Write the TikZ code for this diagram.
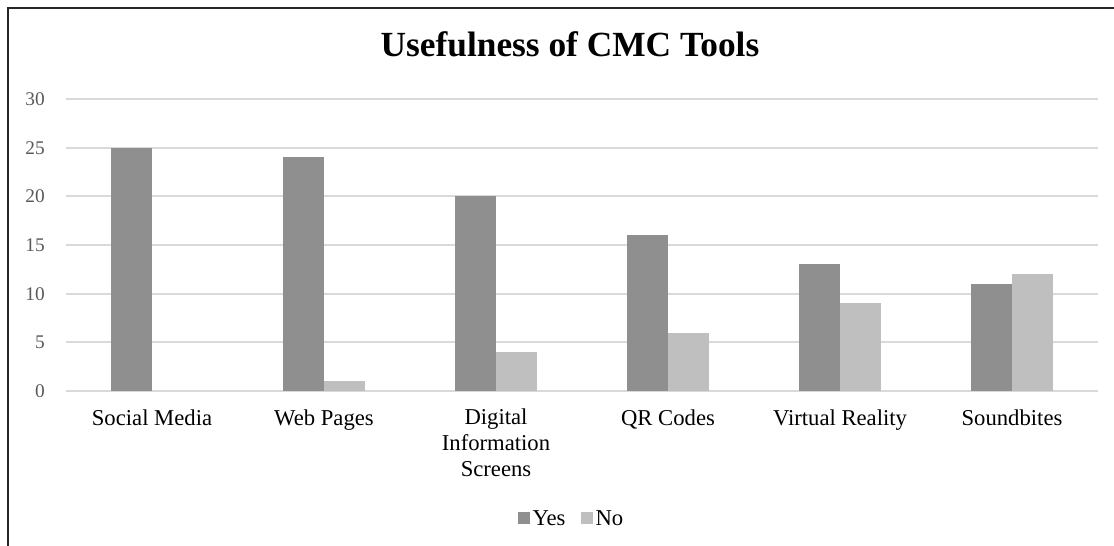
\documentclass[tikz,border=0pt]{standalone}
\usepackage{fontspec}
\setmainfont{Liberation Serif}
\usetikzlibrary{positioning}

\definecolor{yesgray}{HTML}{8F8F8F}
\definecolor{nogray}{HTML}{BFBFBF}
\definecolor{gridgray}{HTML}{D9D9D9}
\definecolor{tickgray}{HTML}{595959}

\begin{document}
\begin{tikzpicture}[x=0.75pt, y=-0.75pt,
  yesbar/.style={rectangle, fill=yesgray, inner sep=0pt, outer sep=0pt, minimum width=30.75pt, anchor=south east},
  nobar/.style={rectangle, fill=nogray, inner sep=0pt, outer sep=0pt, minimum width=30.75pt, anchor=south west},
  gridline/.style={draw=gridgray, line width=1.1pt},
  ticklabel/.style={anchor=east, inner sep=0pt, text=tickgray, font=\fontsize{14.5}{14.5}\selectfont},
  catlabel/.style={anchor=north, inner sep=0pt, align=center, font=\fontsize{17}{19.5}\selectfont},
  keybox/.style={rectangle, inner sep=0pt, minimum size=9pt}]

  \useasboundingbox (0,0) rectangle (1114,546);
  \draw[black!85, line width=1.6pt] (8,546) -- (8,8) -- (1114,8);

  \node[font=\fontsize{26.5}{26.5}\selectfont\bfseries] (title) at (570,44) {Usefulness of CMC Tools};

  % grid and y axis
  \draw[gridline] (66,99) -- (1098,99);
  \draw[gridline] (66,148) -- (1098,148);
  \draw[gridline] (66,196) -- (1098,196);
  \draw[gridline] (66,245) -- (1098,245);
  \draw[gridline] (66,294) -- (1098,294);
  \draw[gridline] (66,342) -- (1098,342);
  \draw[gridline] (66,391) -- (1098,391);
  \node[ticklabel] (t30) at (45,99) {30};
  \node[ticklabel] (t25) at (45,148) {25};
  \node[ticklabel] (t20) at (45,196) {20};
  \node[ticklabel] (t15) at (45,245) {15};
  \node[ticklabel] (t10) at (45,294) {10};
  \node[ticklabel] (t5) at (45,342) {5};
  \node[ticklabel] (t0) at (45,391) {0};

  % bars (1 unit = 7.3pt)
  \node[yesbar, minimum height=182.5pt] (ysocial) at (152,391) {};
  \node[yesbar, minimum height=175.2pt] (yweb) at (324,391) {};
  \node[nobar, minimum height=7.3pt] (nweb) at (324,391) {};
  \node[yesbar, minimum height=146pt] (ydigital) at (496,391) {};
  \node[nobar, minimum height=29.2pt] (ndigital) at (496,391) {};
  \node[yesbar, minimum height=116.8pt] (yqr) at (668,391) {};
  \node[nobar, minimum height=43.8pt] (nqr) at (668,391) {};
  \node[yesbar, minimum height=94.9pt] (yvirtual) at (840,391) {};
  \node[nobar, minimum height=65.7pt] (nvirtual) at (840,391) {};
  \node[yesbar, minimum height=80.3pt] (ysound) at (1012,391) {};
  \node[nobar, minimum height=87.6pt] (nsound) at (1012,391) {};

  % categories
  \node[catlabel] (csocial) at (152,410) {Social Media};
  \node[catlabel] (cweb) at (324,410) {Web Pages};
  \node[catlabel] (cdigital) at (496,409) {Digital\\Information\\Screens};
  \node[catlabel] (cqr) at (668,410) {QR Codes};
  \node[catlabel] (cvirtual) at (840,410) {Virtual Reality};
  \node[catlabel] (csound) at (1012,410) {Soundbites};

  % legend
  \node[keybox, fill=yesgray] (kyes) at (524,518) {};
  \node[right=1.5pt of kyes, inner sep=0pt, font=\fontsize{17}{17}\selectfont] (lyes) {Yes};
  \node[keybox, fill=nogray] (kno) at (587,518) {};
  \node[right=1.5pt of kno, inner sep=0pt, font=\fontsize{17}{17}\selectfont] (lno) {No};

\end{tikzpicture}
\end{document}
